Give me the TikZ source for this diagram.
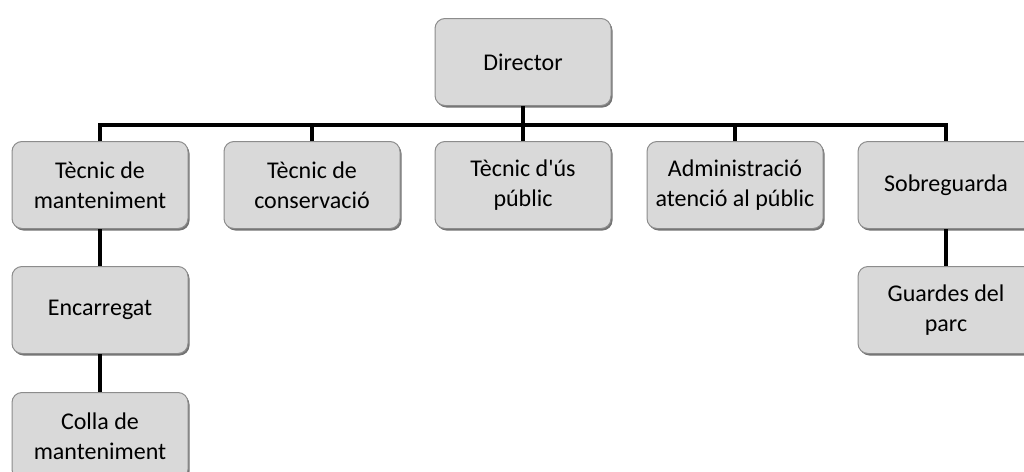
\documentclass[tikz,border=0pt]{standalone}
\usepackage{fontspec}
\setmainfont{Carlito}[Ligatures=TeXOff]
\usepackage{tikz}
\usetikzlibrary{shadows}
\definecolor{boxfill}{HTML}{D9D9D9}
\definecolor{boxline}{HTML}{8C8C8C}
\tikzstyle{post}=[draw=boxline, fill=boxfill, line width=1pt, rounded corners=10pt, minimum width=176pt, minimum height=87pt, align=center, font=\fontsize{24}{30}\selectfont, drop shadow={shadow xshift=1.5pt, shadow yshift=-2pt, fill=black!55, opacity=1}]
\tikzstyle{conn}=[line width=4.5pt, black]

\begin{document}
\begin{tikzpicture}[x=1pt, y=-1pt]
	\useasboundingbox (0, 0) rectangle (1024, 471);
	\clip (0, 0) rectangle (1024, 471);
	\coordinate (bar) at (0, 125);
	\node [post] (dir) at (523, 62) {Director};
	\node [post] (tman) at (100, 185) {Tècnic de\\manteniment};
	\node [post] (tcons) at (312, 185) {Tècnic de\\conservació};
	\node [post] (tus) at (523, 185) {Tècnic d'ús\\públic};
	\node [post] (admin) at (735, 185) {Administració\\atenció al públic};
	\node [post] (sobre) at (946, 185) {Sobreguarda};
	\node [post] (enc) at (100, 310) {Encarregat};
	\node [post] (colla) at (100, 436) {Colla de\\manteniment};
	\node [post] (guard) at (946, 310) {Guardes del\\parc};
	\foreach \n in {tman, tcons, tus, admin, sobre}
		\draw [conn] (dir.south) -- (dir.south |- bar) -| (\n.north);
	\draw [conn] (tman) -- (enc);
	\draw [conn] (enc) -- (colla);
	\draw [conn] (sobre) -- (guard);
	\end{tikzpicture}
\end{document}
